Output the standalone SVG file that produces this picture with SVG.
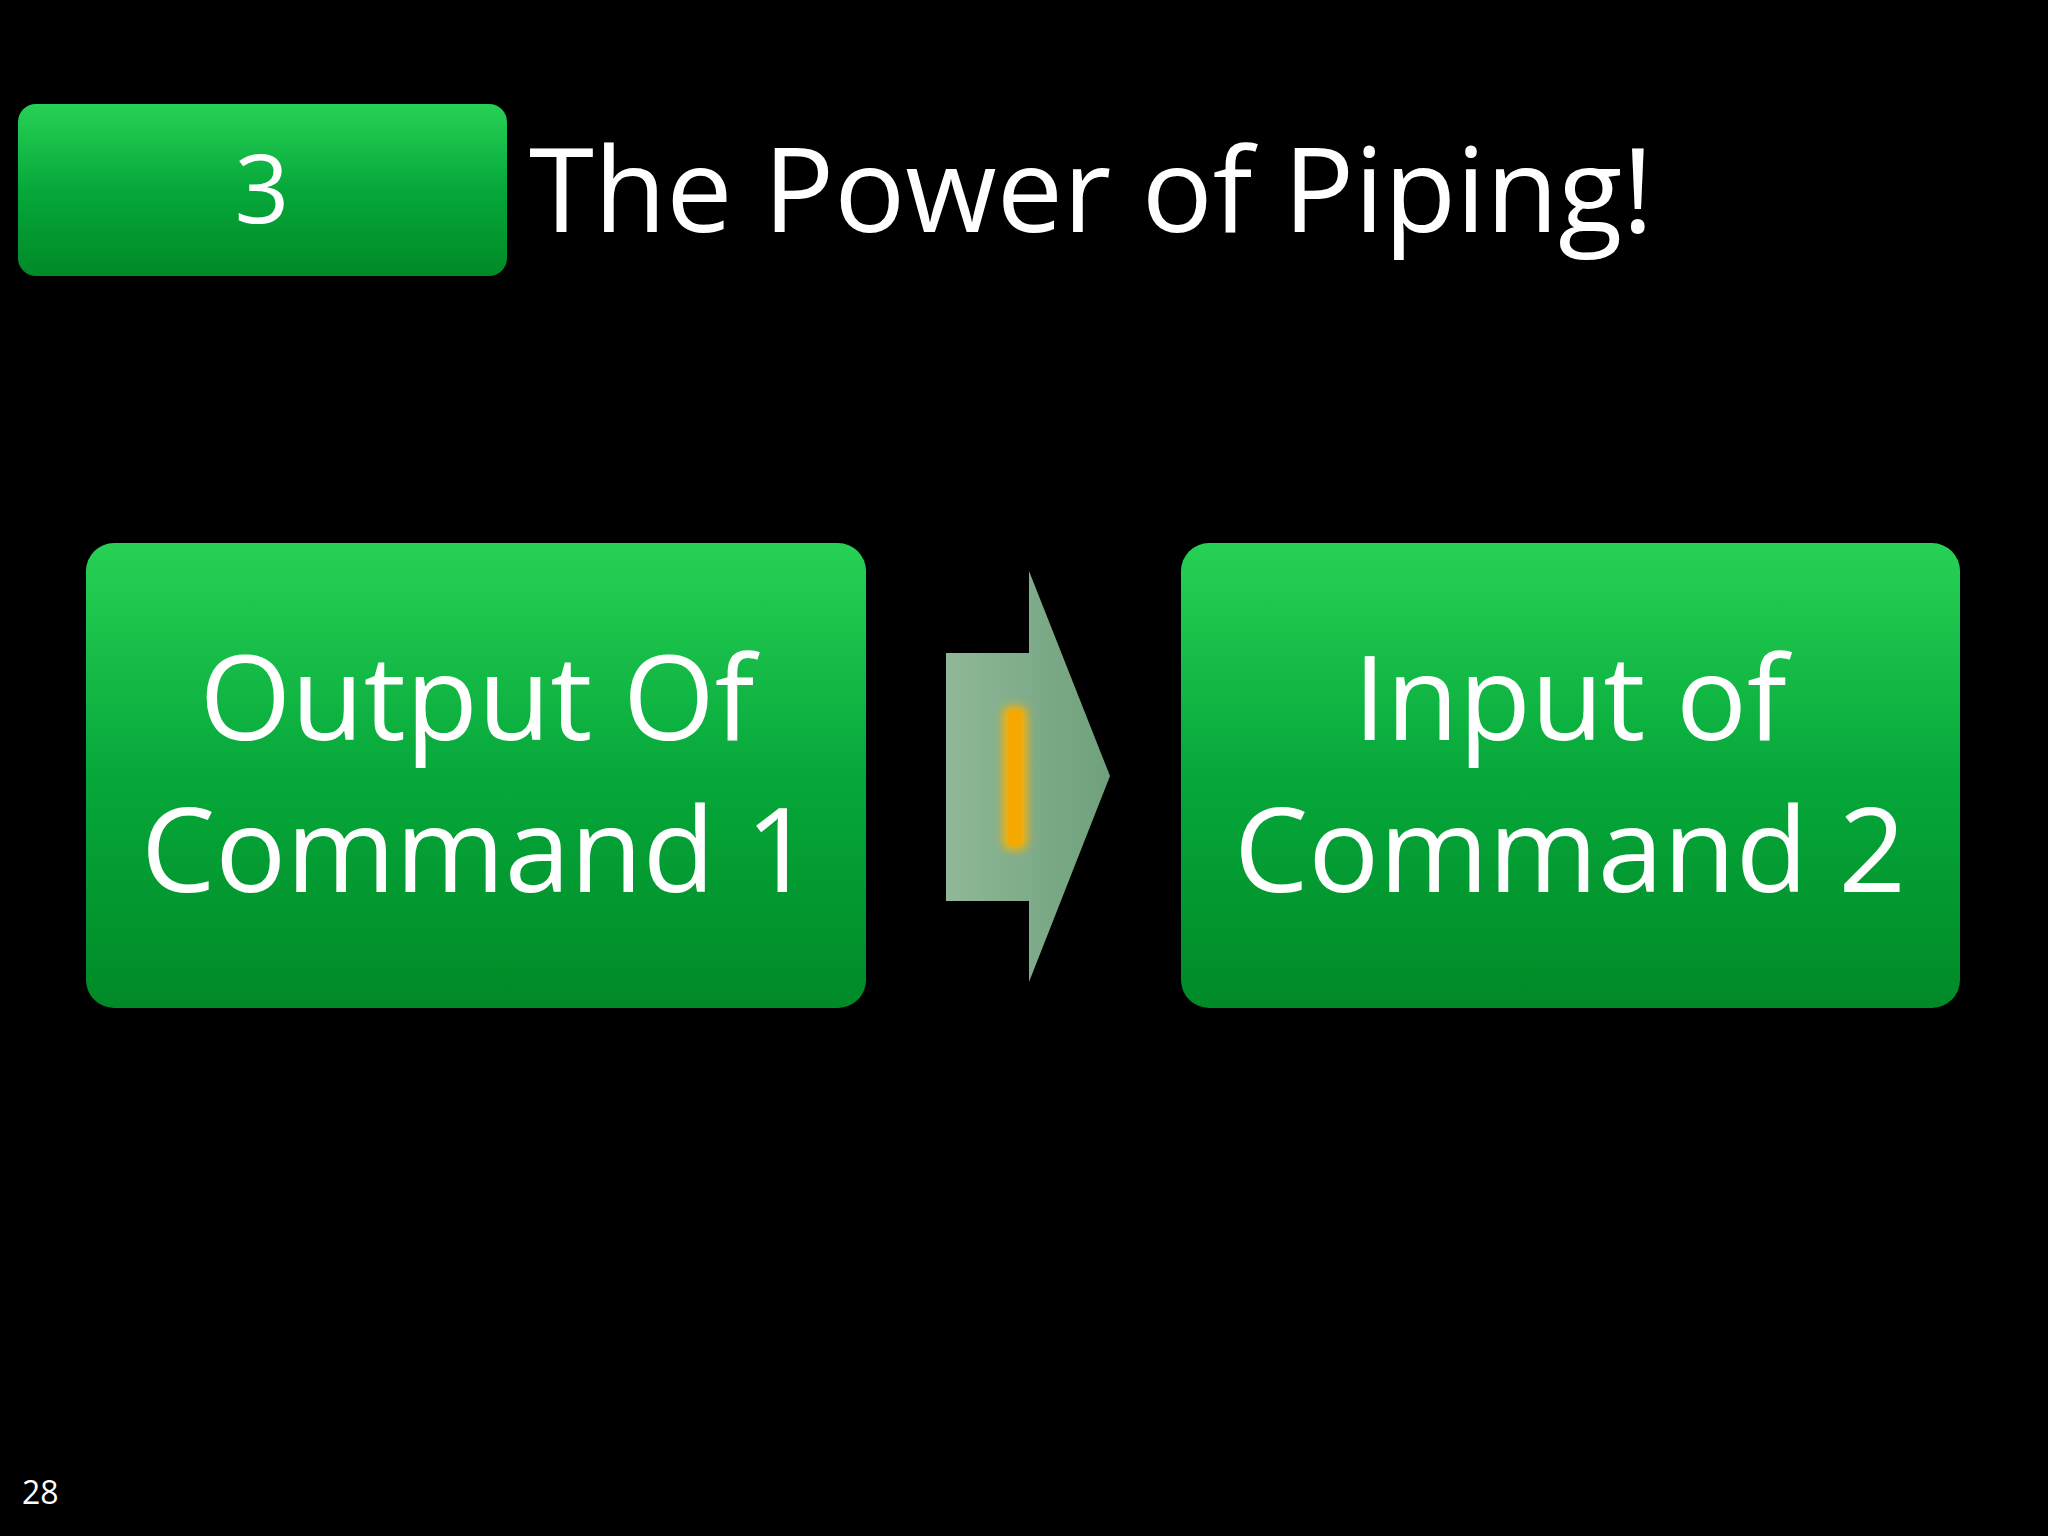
<svg xmlns="http://www.w3.org/2000/svg" width="2048" height="1536" viewBox="0 0 2048 1536">
<defs>
<linearGradient id="g" x1="0" y1="0" x2="0" y2="1"><stop offset="0" stop-color="#27d155"/><stop offset="0.5" stop-color="#06a83a"/><stop offset="1" stop-color="#008a27"/></linearGradient>
<linearGradient id="ga" x1="0" y1="0" x2="1" y2="0"><stop offset="0" stop-color="#8fb898"/><stop offset="1" stop-color="#6fa07c"/></linearGradient>
<filter id="glow" x="-200%" y="-50%" width="500%" height="200%"><feGaussianBlur stdDeviation="5"/></filter>
<style>.t{font-family:"Open Sans","Liberation Sans",sans-serif;fill:#fff;text-anchor:middle}</style>
</defs>
<rect width="2048" height="1536" fill="#000"/>
<g id="badge"><rect x="18" y="104" width="489" height="172" rx="18" fill="url(#g)"/><text class="t" x="262" y="223" font-size="96">3</text></g>
<text id="title" x="529" y="232" font-family="Open Sans,Liberation Sans,sans-serif" font-size="118" fill="#fff">The Power of Piping!</text>
<g id="box1"><rect x="86" y="543" width="780" height="465" rx="28" fill="url(#g)"/><text class="t" x="477" y="740" font-size="118">Output Of</text><text class="t" x="477" y="892" font-size="118">Command 1</text></g>
<g id="box2"><rect x="1181" y="543" width="779" height="465" rx="28" fill="url(#g)"/><text class="t" x="1570" y="740" font-size="118">Input of</text><text class="t" x="1570" y="892" font-size="118">Command 2</text></g>
<g id="connectors"><path d="M946,653 H1029 V571 L1110,776 L1029,982 V901 H946 Z" fill="url(#ga)"/>
<rect x="1003" y="706" width="24" height="144" rx="8" fill="#ffb000" filter="url(#glow)"/>
<rect x="1008" y="710" width="14" height="136" rx="5" fill="#f5a800"/></g>
<text x="22" y="1504" font-family="Open Sans,Liberation Sans,sans-serif" font-size="32" fill="#fff">28</text>
</svg>
